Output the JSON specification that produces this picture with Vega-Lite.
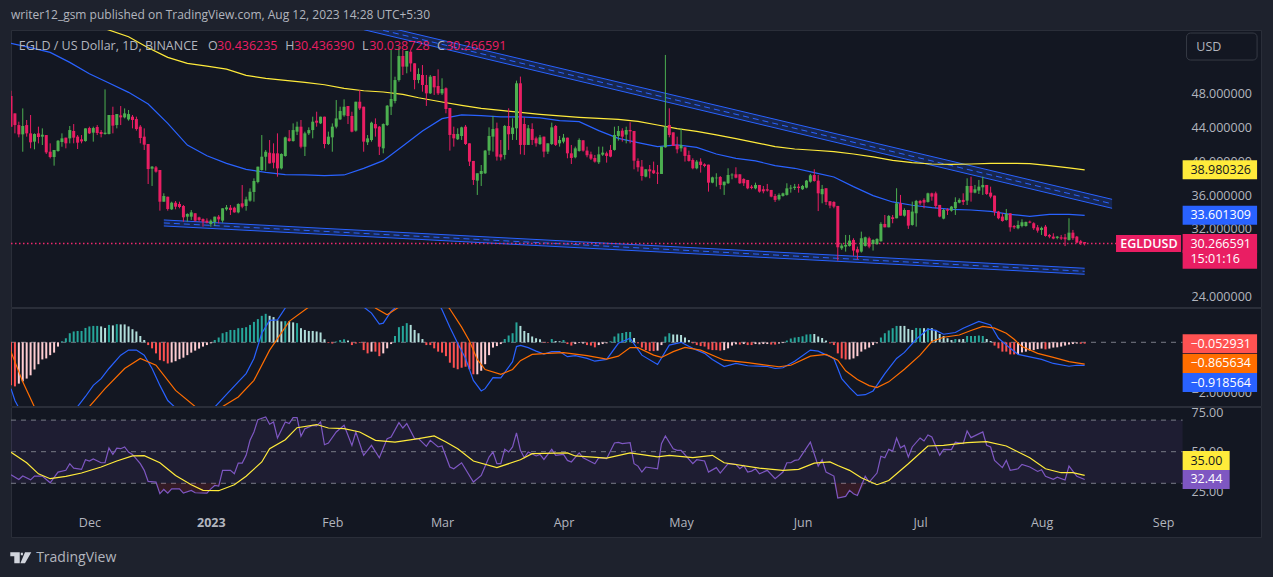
{
"$schema":"https://vega.github.io/schema/vega-lite/v6.json",
"background":"#1e222d",
"padding":{"left":9,"top":8,"right":12,"bottom":12},
"autosize":{"type":"pad"},
"title":{"text":"writer12_gsm published on TradingView.com, Aug 12, 2023 14:28 UTC+5:30","anchor":"start","frame":"group","color":"#b2b5be","fontSize":12,"fontWeight":"normal","font":"Open Sans","offset":8,"dx":0},
"config":{"font":"Open Sans","view":{"fill":"#131722","stroke":"#2a2e39"},"axis":{"labelColor":"#b2b5be","labelFontSize":12.5,"ticks":false,"domain":false,"grid":false,"title":null,"labelFlush":false,"labelOverlap":false,"labelBound":false}},
"spacing":1,
"bounds":"flush",
"datasets":{
"candles":[
{"d":"2022-11-11","o":47.7,"h":48.33,"l":44.08,"c":44.08},{"d":"2022-11-12","o":45.65,"h":45.65,"l":43.29,"c":44.27},{"d":"2022-11-13","o":44.27,"h":44.67,"l":42.82,"c":43.17},{"d":"2022-11-14","o":43.17,"h":46.24,"l":41.12,"c":44.16},{"d":"2022-11-15","o":44.27,"h":44.87,"l":42.9,"c":43.29},
{"d":"2022-11-16","o":43.29,"h":45.46,"l":41.52,"c":42.23},{"d":"2022-11-17","o":42.31,"h":43.29,"l":41.4,"c":43.21},{"d":"2022-11-18","o":43.29,"h":44.08,"l":42.11,"c":42.86},{"d":"2022-11-19","o":42.9,"h":43.88,"l":41.91,"c":43.13},{"d":"2022-11-20","o":43.09,"h":43.09,"l":40.85,"c":41.04},
{"d":"2022-11-21","o":41.12,"h":42.11,"l":40.33,"c":40.49},{"d":"2022-11-22","o":40.49,"h":41.32,"l":39.47,"c":41.32},{"d":"2022-11-23","o":41.2,"h":42.5,"l":41.12,"c":42.42},{"d":"2022-11-24","o":42.27,"h":43.29,"l":41.71,"c":42.7},{"d":"2022-11-25","o":42.78,"h":42.78,"l":41.52,"c":42.11},
{"d":"2022-11-26","o":42.7,"h":44.16,"l":42.11,"c":43.68},{"d":"2022-11-27","o":43.57,"h":44.39,"l":42.11,"c":42.78},{"d":"2022-11-28","o":42.9,"h":43.09,"l":41.44,"c":42.19},{"d":"2022-11-29","o":42.58,"h":43.09,"l":42.11,"c":42.34},{"d":"2022-11-30","o":42.38,"h":43.88,"l":42.31,"c":43.88},
{"d":"2022-12-01","o":43.92,"h":44.08,"l":43.21,"c":43.29},{"d":"2022-12-02","o":43.37,"h":44.08,"l":42.31,"c":43.92},{"d":"2022-12-03","o":44.04,"h":44.27,"l":43.09,"c":43.33},{"d":"2022-12-04","o":43.45,"h":43.68,"l":42.82,"c":43.21},{"d":"2022-12-05","o":43.21,"h":48.49,"l":43.13,"c":43.37},
{"d":"2022-12-06","o":43.21,"h":45.46,"l":43.17,"c":45.46},{"d":"2022-12-07","o":45.46,"h":46.44,"l":43.29,"c":44.2},{"d":"2022-12-08","o":44.27,"h":45.57,"l":43.88,"c":45.57},{"d":"2022-12-09","o":45.42,"h":46.52,"l":44.27,"c":45.18},{"d":"2022-12-10","o":45.18,"h":46.24,"l":45.06,"c":45.65},
{"d":"2022-12-11","o":44.94,"h":46.05,"l":44.79,"c":45.57},{"d":"2022-12-12","o":45.26,"h":45.46,"l":43.88,"c":44.87},{"d":"2022-12-13","o":44.98,"h":45.26,"l":43.61,"c":43.8},{"d":"2022-12-14","o":44.08,"h":44.27,"l":42.11,"c":42.74},{"d":"2022-12-15","o":42.9,"h":43.88,"l":41.32,"c":41.95},
{"d":"2022-12-16","o":42.03,"h":42.03,"l":37.3,"c":39.07},{"d":"2022-12-17","o":39.11,"h":39.43,"l":37.07,"c":39.35},{"d":"2022-12-18","o":39.27,"h":39.43,"l":38.64,"c":38.76},{"d":"2022-12-19","o":38.96,"h":38.96,"l":34.15,"c":35.21},{"d":"2022-12-20","o":35.21,"h":36.2,"l":35.21,"c":35.88},
{"d":"2022-12-21","o":35.8,"h":35.8,"l":34.15,"c":34.35},{"d":"2022-12-22","o":34.31,"h":35.21,"l":34.23,"c":35.09},{"d":"2022-12-23","o":35.09,"h":35.29,"l":34.31,"c":34.62},{"d":"2022-12-24","o":34.94,"h":35.21,"l":34.43,"c":34.58},{"d":"2022-12-25","o":34.7,"h":34.82,"l":32.85,"c":33.36},
{"d":"2022-12-26","o":33.44,"h":33.84,"l":32.85,"c":33.76},{"d":"2022-12-27","o":33.44,"h":34.23,"l":33.05,"c":33.95},{"d":"2022-12-28","o":33.84,"h":33.84,"l":32.85,"c":32.97},{"d":"2022-12-29","o":33.36,"h":33.44,"l":32.85,"c":33.05},{"d":"2022-12-30","o":33.16,"h":33.24,"l":32.26,"c":32.85},
{"d":"2022-12-31","o":32.97,"h":33.24,"l":32.65,"c":32.73},{"d":"2023-01-01","o":32.57,"h":33.12,"l":32.26,"c":32.97},{"d":"2023-01-02","o":32.81,"h":33.44,"l":32.34,"c":33.44},{"d":"2023-01-03","o":33.44,"h":33.64,"l":32.65,"c":33.12},{"d":"2023-01-04","o":32.97,"h":34.43,"l":32.73,"c":34.43},
{"d":"2023-01-05","o":34.31,"h":34.82,"l":34.15,"c":34.54},{"d":"2023-01-06","o":34.5,"h":34.82,"l":33.64,"c":34.23},{"d":"2023-01-07","o":34.5,"h":34.62,"l":33.91,"c":33.95},{"d":"2023-01-08","o":33.95,"h":35.02,"l":33.84,"c":34.94},{"d":"2023-01-09","o":35.02,"h":37.18,"l":34.43,"c":34.62},
{"d":"2023-01-10","o":34.7,"h":35.8,"l":34.15,"c":35.49},{"d":"2023-01-11","o":35.33,"h":36.79,"l":35.21,"c":36.39},{"d":"2023-01-12","o":36.36,"h":37.97,"l":35.21,"c":37.66},{"d":"2023-01-13","o":37.54,"h":39.35,"l":37.38,"c":39.35},{"d":"2023-01-14","o":38.96,"h":43.09,"l":38.88,"c":40.53},
{"d":"2023-01-15","o":40.53,"h":41.32,"l":38.88,"c":41.12},{"d":"2023-01-16","o":41,"h":42.5,"l":39.74,"c":39.74},{"d":"2023-01-17","o":40.93,"h":42.11,"l":39.15,"c":39.82},{"d":"2023-01-18","o":40.93,"h":43.29,"l":38.17,"c":39.15},{"d":"2023-01-19","o":39.15,"h":40.93,"l":39.03,"c":40.85},
{"d":"2023-01-20","o":40.61,"h":42.9,"l":40.53,"c":42.82},{"d":"2023-01-21","o":42.7,"h":43.68,"l":42.31,"c":42.38},{"d":"2023-01-22","o":42.38,"h":44.47,"l":42.31,"c":43.68},{"d":"2023-01-23","o":43.49,"h":44.67,"l":43.09,"c":44.08},{"d":"2023-01-24","o":44.08,"h":44.87,"l":41.52,"c":41.71},
{"d":"2023-01-25","o":41.71,"h":43.49,"l":40.61,"c":43.29},{"d":"2023-01-26","o":43.29,"h":44,"l":43.09,"c":43.68},{"d":"2023-01-27","o":43.68,"h":45.26,"l":42.7,"c":44.67},{"d":"2023-01-28","o":44.79,"h":45.85,"l":44.08,"c":44.55},{"d":"2023-01-29","o":44.47,"h":45.26,"l":44.39,"c":45.26},
{"d":"2023-01-30","o":45.26,"h":45.26,"l":41.52,"c":42.03},{"d":"2023-01-31","o":42.03,"h":43.49,"l":41.91,"c":42.9},{"d":"2023-02-01","o":42.82,"h":44.47,"l":41.12,"c":44.08},{"d":"2023-02-02","o":44.08,"h":47.23,"l":43.88,"c":45.06},{"d":"2023-02-03","o":44.94,"h":46.44,"l":44.87,"c":45.93},
{"d":"2023-02-04","o":45.42,"h":47.31,"l":45.26,"c":46.44},{"d":"2023-02-05","o":46.52,"h":46.52,"l":44.39,"c":45.34},{"d":"2023-02-06","o":45.34,"h":45.85,"l":43.41,"c":43.49},{"d":"2023-02-07","o":43.61,"h":47.03,"l":43.49,"c":47.03},{"d":"2023-02-08","o":47.03,"h":48.41,"l":46.05,"c":46.24},
{"d":"2023-02-09","o":46.44,"h":46.44,"l":41.12,"c":42.31},{"d":"2023-02-10","o":42.23,"h":43.09,"l":41.91,"c":42.7},{"d":"2023-02-11","o":42.5,"h":44.67,"l":42.31,"c":44.55},{"d":"2023-02-12","o":44.39,"h":45.06,"l":42.9,"c":43.88},{"d":"2023-02-13","o":44.08,"h":44.16,"l":40.73,"c":41.71},
{"d":"2023-02-14","o":41.52,"h":44.47,"l":40.93,"c":44.39},{"d":"2023-02-15","o":44.27,"h":46.64,"l":44.16,"c":46.56},{"d":"2023-02-16","o":46.44,"h":53.14,"l":45.46,"c":47.35},{"d":"2023-02-17","o":47.11,"h":49.99,"l":46.84,"c":49.59},{"d":"2023-02-18","o":49.59,"h":53.53,"l":49.4,"c":52.43},
{"d":"2023-02-19","o":52.44,"h":53.15,"l":50.19,"c":51.18},{"d":"2023-02-20","o":51.18,"h":53.03,"l":50.39,"c":53.03},{"d":"2023-02-21","o":52.94,"h":53.14,"l":50.58,"c":51.56},{"d":"2023-02-22","o":51.57,"h":51.57,"l":48.5,"c":49.6},{"d":"2023-02-23","o":49.6,"h":50.98,"l":49.21,"c":50.31},
{"d":"2023-02-24","o":50.19,"h":51.37,"l":48.22,"c":49.01},{"d":"2023-02-25","o":49.01,"h":50.19,"l":46.53,"c":48.02},{"d":"2023-02-26","o":48.02,"h":50.19,"l":47.94,"c":49.99},{"d":"2023-02-27","o":50.07,"h":50.07,"l":47.83,"c":48.73},{"d":"2023-02-28","o":48.89,"h":50.86,"l":47.83,"c":48.02},
{"d":"2023-03-01","o":48.02,"h":49.8,"l":47.83,"c":48.54},{"d":"2023-03-02","o":48.62,"h":48.73,"l":45.66,"c":46.17},{"d":"2023-03-03","o":46.29,"h":46.29,"l":41.25,"c":43.1},{"d":"2023-03-04","o":43.22,"h":44.08,"l":41.72,"c":42.7},{"d":"2023-03-05","o":42.59,"h":43.89,"l":42.51,"c":43.22},
{"d":"2023-03-06","o":42.98,"h":44.08,"l":42.51,"c":44},{"d":"2023-03-07","o":44.08,"h":44.28,"l":41.92,"c":42.03},{"d":"2023-03-08","o":42.11,"h":42.11,"l":39.43,"c":39.95},{"d":"2023-03-09","o":40.03,"h":40.03,"l":37.19,"c":37.78},{"d":"2023-03-10","o":37.7,"h":38.57,"l":36.01,"c":38.57},
{"d":"2023-03-11","o":38.49,"h":39.55,"l":37.07,"c":38.84},{"d":"2023-03-12","o":38.57,"h":41.33,"l":38.49,"c":41.25},{"d":"2023-03-13","o":41.25,"h":44,"l":40.73,"c":42.98},{"d":"2023-03-14","o":42.9,"h":45.35,"l":41.13,"c":43.81},{"d":"2023-03-15","o":43.89,"h":44.56,"l":40.07,"c":40.54},
{"d":"2023-03-16","o":40.81,"h":42.51,"l":40.07,"c":40.46},{"d":"2023-03-17","o":40.74,"h":44.28,"l":40.22,"c":44.16},{"d":"2023-03-18","o":44.16,"h":46.25,"l":41.33,"c":43.18},{"d":"2023-03-19","o":43.22,"h":45.07,"l":42.51,"c":43.97},{"d":"2023-03-20","o":43.89,"h":49.52,"l":42.51,"c":49.21},
{"d":"2023-03-21","o":49.21,"h":50,"l":40.81,"c":41.92},{"d":"2023-03-22","o":44.4,"h":45.19,"l":40.74,"c":41.92},{"d":"2023-03-23","o":41.92,"h":44.28,"l":41.92,"c":43.89},{"d":"2023-03-24","o":43.81,"h":44.48,"l":41.92,"c":42.51},{"d":"2023-03-25","o":42.7,"h":42.9,"l":41.72,"c":42.11},
{"d":"2023-03-26","o":42.03,"h":43.1,"l":41.92,"c":42.82},{"d":"2023-03-27","o":42.9,"h":42.9,"l":40.46,"c":41.13},{"d":"2023-03-28","o":41.13,"h":42.11,"l":40.85,"c":42.11},{"d":"2023-03-29","o":42.03,"h":44.56,"l":41.92,"c":44},{"d":"2023-03-30","o":44.16,"h":44.28,"l":41.8,"c":41.92},
{"d":"2023-03-31","o":42.11,"h":42.98,"l":41.72,"c":42.51},{"d":"2023-04-01","o":42.31,"h":43.22,"l":42.11,"c":42.78},{"d":"2023-04-02","o":42.78,"h":42.78,"l":40.34,"c":40.93},{"d":"2023-04-03","o":40.93,"h":41.92,"l":39.67,"c":40.38},{"d":"2023-04-04","o":40.46,"h":41.72,"l":40.34,"c":41.52},
{"d":"2023-04-05","o":41.21,"h":42.7,"l":41.13,"c":42.51},{"d":"2023-04-06","o":42.47,"h":42.47,"l":41.13,"c":41.25},{"d":"2023-04-07","o":41.25,"h":41.72,"l":40.46,"c":40.7},{"d":"2023-04-08","o":40.81,"h":41.13,"l":40.14,"c":40.3},{"d":"2023-04-09","o":40.38,"h":40.74,"l":39.83,"c":39.95},
{"d":"2023-04-10","o":39.87,"h":41.72,"l":39.67,"c":40.81},{"d":"2023-04-11","o":40.77,"h":41.72,"l":40.62,"c":41.01},{"d":"2023-04-12","o":40.93,"h":41.13,"l":39.83,"c":40.62},{"d":"2023-04-13","o":41.33,"h":41.92,"l":40.46,"c":40.54},{"d":"2023-04-14","o":41.33,"h":44.08,"l":41.25,"c":43.1},
{"d":"2023-04-15","o":42.98,"h":44.16,"l":42.43,"c":43.57},{"d":"2023-04-16","o":43.61,"h":43.89,"l":42.31,"c":42.9},{"d":"2023-04-17","o":43.14,"h":44.08,"l":42.11,"c":43.69},{"d":"2023-04-18","o":43.69,"h":44.6,"l":42.11,"c":43.53},{"d":"2023-04-19","o":43.57,"h":43.57,"l":39.04,"c":40.06},
{"d":"2023-04-20","o":40.03,"h":40.34,"l":38.77,"c":39.28},{"d":"2023-04-21","o":39.36,"h":40.14,"l":37.7,"c":38.25},{"d":"2023-04-22","o":38.17,"h":39.04,"l":38.09,"c":39.04},{"d":"2023-04-23","o":39.04,"h":39.55,"l":37.98,"c":38.8},{"d":"2023-04-24","o":38.92,"h":39.95,"l":38.49,"c":38.57},
{"d":"2023-04-25","o":38.65,"h":39.55,"l":37.3,"c":38.53},{"d":"2023-04-26","o":38.49,"h":41.72,"l":38.49,"c":41.72},{"d":"2023-04-27","o":41.64,"h":52.56,"l":41.6,"c":44.08},{"d":"2023-04-28","o":44.28,"h":46.25,"l":42.82,"c":43.1},{"d":"2023-04-29","o":43.41,"h":43.41,"l":41.8,"c":41.8},
{"d":"2023-04-30","o":41.92,"h":42.9,"l":40.93,"c":41.4},{"d":"2023-05-01","o":41.52,"h":43.89,"l":41.13,"c":41.92},{"d":"2023-05-02","o":41.64,"h":41.64,"l":39.95,"c":40.62},{"d":"2023-05-03","o":40.74,"h":41.25,"l":39.95,"c":40.03},{"d":"2023-05-04","o":40.14,"h":40.34,"l":39.04,"c":39.16},
{"d":"2023-05-05","o":39.16,"h":40.14,"l":39.04,"c":39.95},{"d":"2023-05-06","o":39.95,"h":40.34,"l":38.65,"c":39.55},{"d":"2023-05-07","o":39.63,"h":39.75,"l":39.28,"c":39.43},{"d":"2023-05-08","o":39.59,"h":39.59,"l":36.4,"c":37.46},{"d":"2023-05-09","o":37.46,"h":38.17,"l":37.39,"c":38.09},
{"d":"2023-05-10","o":37.98,"h":38.57,"l":36.99,"c":38.05},{"d":"2023-05-11","o":38.13,"h":38.25,"l":36.68,"c":37.19},{"d":"2023-05-12","o":37.15,"h":37.58,"l":36.01,"c":37.58},{"d":"2023-05-13","o":37.39,"h":39.16,"l":37.31,"c":38.37},{"d":"2023-05-14","o":38.33,"h":38.57,"l":37.86,"c":38.41},
{"d":"2023-05-15","o":38.45,"h":39.28,"l":37.98,"c":38.05},{"d":"2023-05-16","o":38.45,"h":38.45,"l":37.31,"c":37.39},{"d":"2023-05-17","o":37.9,"h":37.98,"l":37.07,"c":37.39},{"d":"2023-05-18","o":37.78,"h":37.78,"l":36.68,"c":36.79},{"d":"2023-05-19","o":36.99,"h":37.19,"l":36.68,"c":36.83},
{"d":"2023-05-20","o":36.79,"h":37.46,"l":36.68,"c":37.19},{"d":"2023-05-21","o":37.19,"h":37.19,"l":36.28,"c":36.4},{"d":"2023-05-22","o":36.68,"h":37.07,"l":36.2,"c":36.44},{"d":"2023-05-23","o":36.68,"h":37.31,"l":36.4,"c":36.52},{"d":"2023-05-24","o":36.6,"h":36.6,"l":35.73,"c":35.81},
{"d":"2023-05-25","o":35.89,"h":36.13,"l":35.18,"c":35.42},{"d":"2023-05-26","o":35.49,"h":36.2,"l":35.34,"c":36.01},{"d":"2023-05-27","o":35.89,"h":36.28,"l":35.81,"c":36.2},{"d":"2023-05-28","o":36.01,"h":37.39,"l":35.93,"c":36.79},{"d":"2023-05-29","o":36.76,"h":37.19,"l":36.28,"c":36.87},
{"d":"2023-05-30","o":36.83,"h":37.31,"l":36.6,"c":36.99},{"d":"2023-05-31","o":36.99,"h":37.31,"l":36.28,"c":36.83},{"d":"2023-06-01","o":36.68,"h":37.19,"l":36.6,"c":37.07},{"d":"2023-06-02","o":36.87,"h":37.78,"l":36.79,"c":37.7},{"d":"2023-06-03","o":37.58,"h":38.49,"l":37.46,"c":38.33},
{"d":"2023-06-04","o":38.37,"h":39.04,"l":37.58,"c":37.66},{"d":"2023-06-05","o":37.7,"h":38.37,"l":34.1,"c":36.2},{"d":"2023-06-06","o":36.09,"h":37.19,"l":35.02,"c":36.72},{"d":"2023-06-07","o":36.8,"h":36.8,"l":34.82,"c":35.18},{"d":"2023-06-08","o":35.26,"h":35.26,"l":34.43,"c":34.75},
{"d":"2023-06-09","o":35.18,"h":35.26,"l":34.43,"c":34.63},{"d":"2023-06-10","o":34.71,"h":34.71,"l":28.24,"c":29.82},{"d":"2023-06-11","o":29.7,"h":30.29,"l":29.51,"c":30.02},{"d":"2023-06-12","o":29.9,"h":31.28,"l":29.31,"c":30.1},{"d":"2023-06-13","o":29.98,"h":31.28,"l":29.9,"c":30.61},
{"d":"2023-06-14","o":30.69,"h":30.89,"l":28.8,"c":29.43},{"d":"2023-06-15","o":29.59,"h":29.9,"l":28.4,"c":29.2},{"d":"2023-06-16","o":29.31,"h":31.67,"l":29.19,"c":30.89},{"d":"2023-06-17","o":29.98,"h":31.08,"l":29.9,"c":31},{"d":"2023-06-18","o":30.89,"h":31.08,"l":29.7,"c":29.9},
{"d":"2023-06-19","o":30.21,"h":30.77,"l":29.43,"c":30.69},{"d":"2023-06-20","o":30.21,"h":30.89,"l":30.1,"c":30.81},{"d":"2023-06-21","o":30.53,"h":32.78,"l":30.49,"c":32.58},{"d":"2023-06-22","o":32.58,"h":33.64,"l":32.18,"c":32.18},{"d":"2023-06-23","o":32.18,"h":33.64,"l":32.18,"c":33.52},
{"d":"2023-06-24","o":33.37,"h":33.64,"l":32.66,"c":33.17},{"d":"2023-06-25","o":33.25,"h":36.8,"l":33.25,"c":35.02},{"d":"2023-06-26","o":35.02,"h":36.01,"l":33.56,"c":33.56},{"d":"2023-06-27","o":33.56,"h":34.43,"l":33.45,"c":34.23},{"d":"2023-06-28","o":34.23,"h":34.23,"l":31.99,"c":32.38},
{"d":"2023-06-29","o":32.46,"h":35.22,"l":32.38,"c":34.04},{"d":"2023-06-30","o":33.84,"h":35.42,"l":32.26,"c":35.3},{"d":"2023-07-01","o":35.3,"h":35.42,"l":34.82,"c":35.02},{"d":"2023-07-02","o":35.42,"h":35.61,"l":34.43,"c":35.1},{"d":"2023-07-03","o":35.18,"h":36.28,"l":35.1,"c":36.2},
{"d":"2023-07-04","o":36.2,"h":36.28,"l":35.33,"c":35.81},{"d":"2023-07-05","o":36.2,"h":36.4,"l":34.43,"c":34.71},{"d":"2023-07-06","o":34.83,"h":34.83,"l":33.37,"c":33.45},{"d":"2023-07-07","o":33.21,"h":34.35,"l":33.13,"c":34.23},{"d":"2023-07-08","o":34.31,"h":34.43,"l":33.64,"c":34.15},
{"d":"2023-07-09","o":34.15,"h":34.71,"l":34.04,"c":34.63},{"d":"2023-07-10","o":34.43,"h":35.73,"l":33.64,"c":35.18},{"d":"2023-07-11","o":35.1,"h":35.61,"l":35.02,"c":35.42},{"d":"2023-07-12","o":35.42,"h":36.2,"l":34.82,"c":35.18},{"d":"2023-07-13","o":35.34,"h":37.98,"l":34.82,"c":37.07},
{"d":"2023-07-14","o":37.07,"h":38.17,"l":35.22,"c":36.28},{"d":"2023-07-15","o":36.28,"h":37.19,"l":36.2,"c":36.68},{"d":"2023-07-16","o":36.52,"h":37.78,"l":36.12,"c":36.99},{"d":"2023-07-17","o":36.91,"h":38.17,"l":36.01,"c":37.19},{"d":"2023-07-18","o":37.19,"h":37.19,"l":36.01,"c":36.12},
{"d":"2023-07-19","o":36.28,"h":36.99,"l":35.61,"c":35.81},{"d":"2023-07-20","o":35.93,"h":35.93,"l":33.56,"c":34.04},{"d":"2023-07-21","o":34.04,"h":34.12,"l":33.13,"c":33.25},{"d":"2023-07-22","o":33.45,"h":33.84,"l":32.85,"c":32.93},{"d":"2023-07-23","o":33.05,"h":34.35,"l":32.97,"c":33.76},
{"d":"2023-07-24","o":33.84,"h":33.84,"l":31.67,"c":32.18},{"d":"2023-07-25","o":32.34,"h":32.46,"l":31.99,"c":32.18},{"d":"2023-07-26","o":32.07,"h":32.97,"l":31.95,"c":32.46},{"d":"2023-07-27","o":32.34,"h":33.13,"l":32.18,"c":32.78},{"d":"2023-07-28","o":32.34,"h":32.85,"l":32.26,"c":32.82},
{"d":"2023-07-29","o":32.85,"h":32.97,"l":32.66,"c":32.74},{"d":"2023-07-30","o":32.66,"h":32.78,"l":31.87,"c":32.07},{"d":"2023-07-31","o":32.18,"h":32.46,"l":31.55,"c":31.79},{"d":"2023-08-01","o":31.87,"h":32.26,"l":31.28,"c":32.11},{"d":"2023-08-02","o":32.26,"h":32.46,"l":31.08,"c":31.16},
{"d":"2023-08-03","o":31.28,"h":31.4,"l":30.89,"c":31.08},{"d":"2023-08-04","o":31.08,"h":31.48,"l":30.77,"c":30.85},{"d":"2023-08-05","o":30.93,"h":31.16,"l":30.77,"c":31.08},{"d":"2023-08-06","o":31,"h":31.28,"l":30.69,"c":30.85},{"d":"2023-08-07","o":31,"h":31.4,"l":29.96,"c":30.77},
{"d":"2023-08-08","o":30.69,"h":33.25,"l":30.61,"c":31.55},{"d":"2023-08-09","o":31.55,"h":31.87,"l":30.69,"c":30.89},{"d":"2023-08-10","o":31.08,"h":31.16,"l":30.29,"c":30.37},{"d":"2023-08-11","o":30.53,"h":30.69,"l":30.1,"c":30.29},{"d":"2023-08-12","o":30.436235,"h":30.43639,"l":30.038728,"c":30.266591}
],
"ma50":[{"d":"2022-11-11","v":53.93},{"d":"2022-11-16","v":53.42},{"d":"2022-11-21","v":52.86},{"d":"2022-11-26","v":51.68},{"d":"2022-12-01","v":50.34},{"d":"2022-12-06","v":49.24},{"d":"2022-12-11","v":48.14},{"d":"2022-12-16","v":46.76},{"d":"2022-12-21","v":44.47},{"d":"2022-12-26","v":41.91},{"d":"2022-12-31","v":40.65},{"d":"2023-01-05","v":39.74},{"d":"2023-01-10","v":39.04},{"d":"2023-01-15","v":38.68},{"d":"2023-01-20","v":38.4},{"d":"2023-01-25","v":38.37},{"d":"2023-01-30","v":38.29},{"d":"2023-02-04","v":38.37},{"d":"2023-02-09","v":39.15},{"d":"2023-02-14","v":40.06},{"d":"2023-02-19","v":41.8},{"d":"2023-02-24","v":43.57},{"d":"2023-03-01","v":45.03},{"d":"2023-03-06","v":45.48},{"d":"2023-03-11","v":45.38},{"d":"2023-03-16","v":45.23},{"d":"2023-03-21","v":45.23},{"d":"2023-03-26","v":45.11},{"d":"2023-03-31","v":44.79},{"d":"2023-04-05","v":44.67},{"d":"2023-04-10","v":43.61},{"d":"2023-04-15","v":42.7},{"d":"2023-04-20","v":42.19},{"d":"2023-04-25","v":41.72},{"d":"2023-04-30","v":41.92},{"d":"2023-05-05","v":41.64},{"d":"2023-05-10","v":40.85},{"d":"2023-05-15","v":40.34},{"d":"2023-05-20","v":40.03},{"d":"2023-05-25","v":39.47},{"d":"2023-05-30","v":39.16},{"d":"2023-06-04","v":38.65},{"d":"2023-06-09","v":38.13},{"d":"2023-06-14","v":36.99},{"d":"2023-06-19","v":35.93},{"d":"2023-06-24","v":35.18},{"d":"2023-06-29","v":34.79},{"d":"2023-07-04","v":34.51},{"d":"2023-07-09","v":34.31},{"d":"2023-07-14","v":34.23},{"d":"2023-07-19","v":34.07},{"d":"2023-07-24","v":33.72},{"d":"2023-07-29","v":33.48},{"d":"2023-08-03","v":33.72},{"d":"2023-08-08","v":33.72},{"d":"2023-08-12","v":33.601309}],
"ma200":[{"d":"2022-12-04","v":55.82},{"d":"2022-12-11","v":54.72},{"d":"2022-12-16","v":53.42},{"d":"2022-12-21","v":52.27},{"d":"2022-12-26","v":51.56},{"d":"2022-12-31","v":51.25},{"d":"2023-01-05","v":50.89},{"d":"2023-01-10","v":50.15},{"d":"2023-01-15","v":49.79},{"d":"2023-01-20","v":49.55},{"d":"2023-01-25","v":49.32},{"d":"2023-01-30","v":49.04},{"d":"2023-02-04","v":48.61},{"d":"2023-02-09","v":48.33},{"d":"2023-02-14","v":48.18},{"d":"2023-02-19","v":47.9},{"d":"2023-02-23","v":47.5},{"d":"2023-03-01","v":47},{"d":"2023-03-06","v":46.6},{"d":"2023-03-11","v":46.25},{"d":"2023-03-16","v":46},{"d":"2023-03-21","v":45.78},{"d":"2023-03-26","v":45.54},{"d":"2023-03-31","v":45.35},{"d":"2023-04-05","v":45.19},{"d":"2023-04-10","v":45.07},{"d":"2023-04-15","v":44.95},{"d":"2023-04-20","v":44.71},{"d":"2023-04-25","v":44.28},{"d":"2023-04-30","v":43.85},{"d":"2023-05-05","v":43.53},{"d":"2023-05-10","v":43.1},{"d":"2023-05-15","v":42.67},{"d":"2023-05-20","v":42.19},{"d":"2023-05-25","v":41.72},{"d":"2023-05-30","v":41.44},{"d":"2023-06-04","v":41.29},{"d":"2023-06-09","v":41.13},{"d":"2023-06-14","v":40.85},{"d":"2023-06-19","v":40.5},{"d":"2023-06-24","v":40.1},{"d":"2023-06-29","v":39.83},{"d":"2023-07-04","v":39.67},{"d":"2023-07-09","v":39.63},{"d":"2023-07-14","v":39.67},{"d":"2023-07-19","v":39.75},{"d":"2023-07-24","v":39.75},{"d":"2023-07-29","v":39.71},{"d":"2023-08-03","v":39.47},{"d":"2023-08-08","v":39.2},{"d":"2023-08-12","v":38.980326}],
"channelUpper":[{"d":"2023-02-09","upper":56.5,"mid":56.02,"lower":55.55},{"d":"2023-08-19","upper":35.49,"mid":34.96,"lower":34.43}],
"channelLower":[{"d":"2022-12-20","upper":33.05,"mid":32.7,"lower":32.34},{"d":"2023-08-12","upper":27.34,"mid":26.98,"lower":26.63}],
"headerText":[{"d":"2022-11-13","text":"EGLD / US Dollar, 1D, BINANCE","kind":"name"},{"d":"2022-12-31T07:00:00Z","text":"O","kind":"name"},{"d":"2023-01-02T14:00:00Z","text":"30.436235","kind":"value"},{"d":"2023-01-20","text":"H","kind":"name"},{"d":"2023-01-22T05:00:00Z","text":"30.436390","kind":"value"},{"d":"2023-02-08T14:00:00Z","text":"L","kind":"name"},{"d":"2023-02-10T10:00:00Z","text":"30.038728","kind":"value"},{"d":"2023-02-27T17:00:00Z","text":"C","kind":"name"},{"d":"2023-03-02","text":"30.266591","kind":"value"}],
"priceTags":[{"label":"38.980326","series":"ma200","at":38.980326},{"label":"33.601309","series":"ma50","at":33.601309},{"label":"30.266591","series":"price","at":30.266591},{"label":"15:01:16","series":"price","at":28.4}],
"macdTags":[{"label":"−0.052931","series":"hist","at":-0.052931},{"label":"−0.865634","series":"signal","at":-0.84},{"label":"−0.918564","series":"macd","at":-1.6}],
"rsiTags":[{"label":"35.00","series":"rsiMa","at":44.4},{"label":"32.44","series":"rsi","at":32.44}],
"macdHist":[
{"d":"2022-11-11","v":-1.7,"tone":"neg"},{"d":"2022-11-12","v":-1.75,"tone":"neg"},{"d":"2022-11-13","v":-1.64,"tone":"negFade"},{"d":"2022-11-14","v":-1.55,"tone":"negFade"},{"d":"2022-11-15","v":-1.44,"tone":"negFade"},{"d":"2022-11-16","v":-1.31,"tone":"negFade"},{"d":"2022-11-17","v":-1.08,"tone":"negFade"},{"d":"2022-11-18","v":-0.87,"tone":"negFade"},{"d":"2022-11-19","v":-0.68,"tone":"negFade"},{"d":"2022-11-20","v":-0.64,"tone":"negFade"},{"d":"2022-11-21","v":-0.51,"tone":"negFade"},{"d":"2022-11-22","v":-0.41,"tone":"negFade"},{"d":"2022-11-23","v":-0.17,"tone":"negFade"},{"d":"2022-11-24","v":0.04,"tone":"pos"},{"d":"2022-11-25","v":0.16,"tone":"pos"},{"d":"2022-11-26","v":0.36,"tone":"pos"},{"d":"2022-11-27","v":0.43,"tone":"pos"},{"d":"2022-11-28","v":0.45,"tone":"pos"},{"d":"2022-11-29","v":0.45,"tone":"pos"},{"d":"2022-11-30","v":0.57,"tone":"pos"},
{"d":"2022-12-01","v":0.63,"tone":"pos"},{"d":"2022-12-02","v":0.65,"tone":"pos"},{"d":"2022-12-03","v":0.65,"tone":"pos"},{"d":"2022-12-04","v":0.63,"tone":"posFade"},{"d":"2022-12-05","v":0.57,"tone":"posFade"},{"d":"2022-12-06","v":0.69,"tone":"pos"},{"d":"2022-12-07","v":0.67,"tone":"posFade"},{"d":"2022-12-08","v":0.72,"tone":"pos"},{"d":"2022-12-09","v":0.71,"tone":"posFade"},{"d":"2022-12-10","v":0.71,"tone":"posFade"},{"d":"2022-12-11","v":0.63,"tone":"posFade"},{"d":"2022-12-12","v":0.52,"tone":"posFade"},{"d":"2022-12-13","v":0.43,"tone":"posFade"},{"d":"2022-12-14","v":0.25,"tone":"posFade"},{"d":"2022-12-15","v":0.09,"tone":"posFade"},{"d":"2022-12-16","v":-0.11,"tone":"neg"},{"d":"2022-12-17","v":-0.24,"tone":"neg"},{"d":"2022-12-18","v":-0.44,"tone":"neg"},{"d":"2022-12-19","v":-0.71,"tone":"neg"},{"d":"2022-12-20","v":-0.75,"tone":"neg"},{"d":"2022-12-21","v":-0.84,"tone":"neg"},{"d":"2022-12-22","v":-0.8,"tone":"negFade"},{"d":"2022-12-23","v":-0.75,"tone":"negFade"},{"d":"2022-12-24","v":-0.67,"tone":"negFade"},{"d":"2022-12-25","v":-0.61,"tone":"negFade"},{"d":"2022-12-26","v":-0.51,"tone":"negFade"},{"d":"2022-12-27","v":-0.41,"tone":"negFade"},{"d":"2022-12-28","v":-0.33,"tone":"negFade"},{"d":"2022-12-29","v":-0.25,"tone":"negFade"},{"d":"2022-12-30","v":-0.17,"tone":"negFade"},{"d":"2022-12-31","v":-0.11,"tone":"negFade"},
{"d":"2023-01-01","v":-0.04,"tone":"negFade"},{"d":"2023-01-02","v":0.09,"tone":"pos"},{"d":"2023-01-03","v":0.19,"tone":"pos"},{"d":"2023-01-04","v":0.36,"tone":"pos"},{"d":"2023-01-05","v":0.41,"tone":"pos"},{"d":"2023-01-06","v":0.49,"tone":"pos"},{"d":"2023-01-07","v":0.49,"tone":"pos"},{"d":"2023-01-08","v":0.56,"tone":"pos"},{"d":"2023-01-09","v":0.57,"tone":"pos"},{"d":"2023-01-10","v":0.6,"tone":"pos"},{"d":"2023-01-11","v":0.69,"tone":"pos"},{"d":"2023-01-12","v":0.81,"tone":"pos"},{"d":"2023-01-13","v":0.92,"tone":"pos"},{"d":"2023-01-14","v":1.05,"tone":"pos"},{"d":"2023-01-15","v":1.13,"tone":"pos"},{"d":"2023-01-16","v":1.05,"tone":"posFade"},{"d":"2023-01-17","v":1,"tone":"posFade"},{"d":"2023-01-18","v":0.87,"tone":"posFade"},{"d":"2023-01-19","v":0.83,"tone":"posFade"},{"d":"2023-01-20","v":0.84,"tone":"pos"},{"d":"2023-01-21","v":0.83,"tone":"posFade"},{"d":"2023-01-22","v":0.79,"tone":"posFade"},{"d":"2023-01-23","v":0.76,"tone":"pos"},{"d":"2023-01-24","v":0.56,"tone":"posFade"},{"d":"2023-01-25","v":0.49,"tone":"posFade"},{"d":"2023-01-26","v":0.45,"tone":"posFade"},{"d":"2023-01-27","v":0.45,"tone":"posFade"},{"d":"2023-01-28","v":0.43,"tone":"posFade"},{"d":"2023-01-29","v":0.39,"tone":"posFade"},{"d":"2023-01-30","v":0.12,"tone":"posFade"},{"d":"2023-01-31","v":-0.03,"tone":"neg"},
{"d":"2023-02-01","v":-0.05,"tone":"neg"},{"d":"2023-02-02","v":0.03,"tone":"pos"},{"d":"2023-02-03","v":0.09,"tone":"pos"},{"d":"2023-02-04","v":0.12,"tone":"pos"},{"d":"2023-02-05","v":0.07,"tone":"posFade"},{"d":"2023-02-06","v":-0.11,"tone":"neg"},{"d":"2023-02-07","v":-0.05,"tone":"neg"},{"d":"2023-02-08","v":-0.03,"tone":"neg"},{"d":"2023-02-09","v":-0.31,"tone":"neg"},{"d":"2023-02-10","v":-0.44,"tone":"neg"},{"d":"2023-02-11","v":-0.37,"tone":"negFade"},{"d":"2023-02-12","v":-0.37,"tone":"neg"},{"d":"2023-02-13","v":-0.55,"tone":"neg"},{"d":"2023-02-14","v":-0.44,"tone":"negFade"},{"d":"2023-02-15","v":-0.24,"tone":"negFade"},{"d":"2023-02-16","v":-0.07,"tone":"negFade"},{"d":"2023-02-17","v":0.25,"tone":"pos"},{"d":"2023-02-18","v":0.6,"tone":"pos"},{"d":"2023-02-19","v":0.65,"tone":"pos"},{"d":"2023-02-20","v":0.76,"tone":"pos"},{"d":"2023-02-21","v":0.69,"tone":"posFade"},{"d":"2023-02-22","v":0.49,"tone":"posFade"},{"d":"2023-02-23","v":0.36,"tone":"posFade"},{"d":"2023-02-24","v":0.13,"tone":"posFade"},{"d":"2023-02-25","v":-0.11,"tone":"neg"},{"d":"2023-02-26","v":-0.11,"tone":"neg"},{"d":"2023-02-27","v":-0.24,"tone":"neg"},{"d":"2023-02-28","v":-0.37,"tone":"neg"},
{"d":"2023-03-01","v":-0.41,"tone":"neg"},{"d":"2023-03-02","v":-0.55,"tone":"neg"},{"d":"2023-03-03","v":-0.81,"tone":"neg"},{"d":"2023-03-04","v":-1.01,"tone":"neg"},{"d":"2023-03-05","v":-1.07,"tone":"neg"},{"d":"2023-03-06","v":-1.01,"tone":"neg"},{"d":"2023-03-07","v":-0.97,"tone":"neg"},{"d":"2023-03-08","v":-1.07,"tone":"neg"},{"d":"2023-03-09","v":-1.27,"tone":"neg"},{"d":"2023-03-10","v":-1.27,"tone":"negFade"},{"d":"2023-03-11","v":-1.13,"tone":"negFade"},{"d":"2023-03-12","v":-0.87,"tone":"negFade"},{"d":"2023-03-13","v":-0.51,"tone":"negFade"},{"d":"2023-03-14","v":-0.21,"tone":"negFade"},{"d":"2023-03-15","v":-0.15,"tone":"negFade"},{"d":"2023-03-16","v":-0.07,"tone":"negFade"},{"d":"2023-03-17","v":0.13,"tone":"pos"},{"d":"2023-03-18","v":0.27,"tone":"pos"},{"d":"2023-03-19","v":0.36,"tone":"pos"},{"d":"2023-03-20","v":0.79,"tone":"pos"},{"d":"2023-03-21","v":0.65,"tone":"posFade"},{"d":"2023-03-22","v":0.45,"tone":"posFade"},{"d":"2023-03-23","v":0.37,"tone":"posFade"},{"d":"2023-03-24","v":0.23,"tone":"posFade"},{"d":"2023-03-25","v":0.16,"tone":"posFade"},{"d":"2023-03-26","v":0.12,"tone":"posFade"},{"d":"2023-03-27","v":-0.02,"tone":"neg"},{"d":"2023-03-28","v":-0.02,"tone":"neg"},{"d":"2023-03-29","v":0.13,"tone":"pos"},{"d":"2023-03-30","v":0.05,"tone":"posFade"},{"d":"2023-03-31","v":0.04,"tone":"posFade"},
{"d":"2023-04-01","v":0.09,"tone":"pos"},{"d":"2023-04-02","v":-0.07,"tone":"neg"},{"d":"2023-04-03","v":-0.13,"tone":"neg"},{"d":"2023-04-04","v":-0.07,"tone":"negFade"},{"d":"2023-04-05","v":-0.03,"tone":"negFade"},{"d":"2023-04-06","v":-0.05,"tone":"negFade"},{"d":"2023-04-07","v":-0.11,"tone":"neg"},{"d":"2023-04-08","v":-0.13,"tone":"neg"},{"d":"2023-04-09","v":-0.2,"tone":"neg"},{"d":"2023-04-10","v":-0.11,"tone":"negFade"},{"d":"2023-04-11","v":-0.07,"tone":"negFade"},{"d":"2023-04-12","v":-0.04,"tone":"negFade"},{"d":"2023-04-13","v":0.04,"tone":"pos"},{"d":"2023-04-14","v":0.23,"tone":"pos"},{"d":"2023-04-15","v":0.35,"tone":"pos"},{"d":"2023-04-16","v":0.37,"tone":"pos"},{"d":"2023-04-17","v":0.41,"tone":"pos"},{"d":"2023-04-18","v":0.41,"tone":"pos"},{"d":"2023-04-19","v":0.17,"tone":"posFade"},{"d":"2023-04-20","v":-0.04,"tone":"neg"},{"d":"2023-04-21","v":-0.21,"tone":"neg"},{"d":"2023-04-22","v":-0.31,"tone":"neg"},{"d":"2023-04-23","v":-0.35,"tone":"neg"},{"d":"2023-04-24","v":-0.35,"tone":"neg"},{"d":"2023-04-25","v":-0.33,"tone":"negFade"},{"d":"2023-04-26","v":-0.11,"tone":"negFade"},{"d":"2023-04-27","v":0.23,"tone":"pos"},{"d":"2023-04-28","v":0.36,"tone":"pos"},{"d":"2023-04-29","v":0.31,"tone":"posFade"},{"d":"2023-04-30","v":0.31,"tone":"posFade"},
{"d":"2023-05-01","v":0.29,"tone":"posFade"},{"d":"2023-05-02","v":0.19,"tone":"posFade"},{"d":"2023-05-03","v":0.09,"tone":"posFade"},{"d":"2023-05-04","v":-0.04,"tone":"neg"},{"d":"2023-05-05","v":-0.11,"tone":"neg"},{"d":"2023-05-06","v":-0.15,"tone":"neg"},{"d":"2023-05-07","v":-0.17,"tone":"neg"},{"d":"2023-05-08","v":-0.28,"tone":"neg"},{"d":"2023-05-09","v":-0.31,"tone":"neg"},{"d":"2023-05-10","v":-0.31,"tone":"neg"},{"d":"2023-05-11","v":-0.33,"tone":"neg"},{"d":"2023-05-12","v":-0.31,"tone":"negFade"},{"d":"2023-05-13","v":-0.24,"tone":"negFade"},{"d":"2023-05-14","v":-0.13,"tone":"negFade"},{"d":"2023-05-15","v":-0.08,"tone":"negFade"},{"d":"2023-05-16","v":-0.09,"tone":"neg"},{"d":"2023-05-17","v":-0.07,"tone":"negFade"},{"d":"2023-05-18","v":-0.11,"tone":"neg"},{"d":"2023-05-19","v":-0.11,"tone":"neg"},{"d":"2023-05-20","v":-0.07,"tone":"negFade"},{"d":"2023-05-21","v":-0.08,"tone":"negFade"},{"d":"2023-05-22","v":-0.07,"tone":"negFade"},{"d":"2023-05-23","v":-0.07,"tone":"negFade"},{"d":"2023-05-24","v":-0.09,"tone":"neg"},{"d":"2023-05-25","v":-0.09,"tone":"neg"},{"d":"2023-05-26","v":-0.05,"tone":"negFade"},{"d":"2023-05-27","v":-0.03,"tone":"negFade"},{"d":"2023-05-28","v":0.07,"tone":"pos"},{"d":"2023-05-29","v":0.15,"tone":"pos"},{"d":"2023-05-30","v":0.19,"tone":"pos"},{"d":"2023-05-31","v":0.21,"tone":"pos"},
{"d":"2023-06-01","v":0.24,"tone":"pos"},{"d":"2023-06-02","v":0.31,"tone":"pos"},{"d":"2023-06-03","v":0.32,"tone":"pos"},{"d":"2023-06-04","v":0.33,"tone":"posFade"},{"d":"2023-06-05","v":0.23,"tone":"posFade"},{"d":"2023-06-06","v":0.17,"tone":"posFade"},{"d":"2023-06-07","v":0.07,"tone":"posFade"},{"d":"2023-06-08","v":-0.04,"tone":"neg"},{"d":"2023-06-09","v":-0.11,"tone":"neg"},{"d":"2023-06-10","v":-0.44,"tone":"neg"},{"d":"2023-06-11","v":-0.64,"tone":"neg"},{"d":"2023-06-12","v":-0.68,"tone":"neg"},{"d":"2023-06-13","v":-0.68,"tone":"negFade"},{"d":"2023-06-14","v":-0.64,"tone":"negFade"},{"d":"2023-06-15","v":-0.55,"tone":"negFade"},{"d":"2023-06-16","v":-0.37,"tone":"negFade"},{"d":"2023-06-17","v":-0.28,"tone":"negFade"},{"d":"2023-06-18","v":-0.21,"tone":"negFade"},{"d":"2023-06-19","v":-0.11,"tone":"negFade"},{"d":"2023-06-20","v":-0.04,"tone":"negFade"},{"d":"2023-06-21","v":0.19,"tone":"pos"},{"d":"2023-06-22","v":0.36,"tone":"pos"},{"d":"2023-06-23","v":0.47,"tone":"pos"},{"d":"2023-06-24","v":0.56,"tone":"pos"},{"d":"2023-06-25","v":0.65,"tone":"pos"},{"d":"2023-06-26","v":0.65,"tone":"posFade"},{"d":"2023-06-27","v":0.65,"tone":"posFade"},{"d":"2023-06-28","v":0.53,"tone":"posFade"},{"d":"2023-06-29","v":0.49,"tone":"posFade"},{"d":"2023-06-30","v":0.57,"tone":"pos"},
{"d":"2023-07-01","v":0.56,"tone":"pos"},{"d":"2023-07-02","v":0.56,"tone":"posFade"},{"d":"2023-07-03","v":0.56,"tone":"pos"},{"d":"2023-07-04","v":0.56,"tone":"posFade"},{"d":"2023-07-05","v":0.49,"tone":"posFade"},{"d":"2023-07-06","v":0.33,"tone":"posFade"},{"d":"2023-07-07","v":0.25,"tone":"posFade"},{"d":"2023-07-08","v":0.16,"tone":"posFade"},{"d":"2023-07-09","v":0.09,"tone":"posFade"},{"d":"2023-07-10","v":0.13,"tone":"pos"},{"d":"2023-07-11","v":0.12,"tone":"posFade"},{"d":"2023-07-12","v":0.13,"tone":"posFade"},{"d":"2023-07-13","v":0.25,"tone":"pos"},{"d":"2023-07-14","v":0.25,"tone":"pos"},{"d":"2023-07-15","v":0.25,"tone":"pos"},{"d":"2023-07-16","v":0.27,"tone":"pos"},{"d":"2023-07-17","v":0.25,"tone":"pos"},{"d":"2023-07-18","v":0.13,"tone":"posFade"},{"d":"2023-07-19","v":0.05,"tone":"posFade"},{"d":"2023-07-20","v":-0.13,"tone":"neg"},{"d":"2023-07-21","v":-0.24,"tone":"neg"},{"d":"2023-07-22","v":-0.37,"tone":"neg"},{"d":"2023-07-23","v":-0.37,"tone":"neg"},{"d":"2023-07-24","v":-0.48,"tone":"neg"},{"d":"2023-07-25","v":-0.48,"tone":"neg"},{"d":"2023-07-26","v":-0.47,"tone":"negFade"},{"d":"2023-07-27","v":-0.4,"tone":"negFade"},{"d":"2023-07-28","v":-0.37,"tone":"negFade"},{"d":"2023-07-29","v":-0.33,"tone":"negFade"},{"d":"2023-07-30","v":-0.31,"tone":"negFade"},{"d":"2023-07-31","v":-0.27,"tone":"negFade"},
{"d":"2023-08-01","v":-0.25,"tone":"negFade"},{"d":"2023-08-02","v":-0.28,"tone":"neg"},{"d":"2023-08-03","v":-0.25,"tone":"negFade"},{"d":"2023-08-04","v":-0.21,"tone":"negFade"},{"d":"2023-08-05","v":-0.2,"tone":"negFade"},{"d":"2023-08-06","v":-0.17,"tone":"negFade"},{"d":"2023-08-07","v":-0.13,"tone":"negFade"},{"d":"2023-08-08","v":-0.09,"tone":"negFade"},{"d":"2023-08-09","v":-0.07,"tone":"negFade"},{"d":"2023-08-10","v":-0.05,"tone":"negFade"},{"d":"2023-08-11","v":-0.06,"tone":"neg"},{"d":"2023-08-12","v":-0.052931,"tone":"neg"}
],
"macdLine":[{"d":"2022-11-11","v":-1.84},{"d":"2022-11-12","v":-2.31},{"d":"2022-11-14","v":-2.9},{"d":"2022-11-19","v":-3.37},{"d":"2022-11-25","v":-3.1},{"d":"2022-11-28","v":-2.55},{"d":"2022-11-30","v":-2.15},{"d":"2022-12-02","v":-1.71},{"d":"2022-12-04","v":-1.44},{"d":"2022-12-06","v":-1.04},{"d":"2022-12-09","v":-0.51},{"d":"2022-12-11","v":-0.31},{"d":"2022-12-13","v":-0.31},{"d":"2022-12-15","v":-0.51},{"d":"2022-12-17","v":-1.04},{"d":"2022-12-19","v":-1.71},{"d":"2022-12-21","v":-2.31},{"d":"2022-12-23","v":-2.6},{"d":"2022-12-29","v":-3.37},{"d":"2023-01-02","v":-2.57},{"d":"2023-01-05","v":-2.07},{"d":"2023-01-08","v":-1.57},{"d":"2023-01-10","v":-1.24},{"d":"2023-01-12","v":-0.64},{"d":"2023-01-14","v":0.36},{"d":"2023-01-16","v":0.87},{"d":"2023-01-18","v":0.89},{"d":"2023-01-20","v":1.36},{"d":"2023-01-22","v":1.96},{"d":"2023-01-25","v":2.63},{"d":"2023-01-30","v":2.89},{"d":"2023-02-04","v":2.17},{"d":"2023-02-07","v":1.76},{"d":"2023-02-09","v":1.4},{"d":"2023-02-11","v":1.16},{"d":"2023-02-13","v":0.72},{"d":"2023-02-14","v":0.76},{"d":"2023-02-16","v":1.23},{"d":"2023-02-17","v":1.36},{"d":"2023-02-19","v":1.83},{"d":"2023-02-21","v":2.23},{"d":"2023-02-23","v":2.49},{"d":"2023-02-27","v":1.89},{"d":"2023-03-01","v":1.29},{"d":"2023-03-03","v":0.6},{"d":"2023-03-05","v":-0.04},{"d":"2023-03-07","v":-0.64},{"d":"2023-03-09","v":-1.51},{"d":"2023-03-11","v":-1.93},{"d":"2023-03-12","v":-1.84},{"d":"2023-03-14","v":-1.4},{"d":"2023-03-16","v":-1.41},{"d":"2023-03-19","v":-0.77},{"d":"2023-03-20","v":-0.17},{"d":"2023-03-21","v":-0.12},{"d":"2023-03-23","v":-0.21},{"d":"2023-03-25","v":-0.35},{"d":"2023-03-27","v":-0.47},{"d":"2023-03-29","v":-0.37},{"d":"2023-03-31","v":-0.37},{"d":"2023-04-02","v":-0.57},{"d":"2023-04-04","v":-0.53},{"d":"2023-04-07","v":-0.64},{"d":"2023-04-09","v":-0.75},{"d":"2023-04-12","v":-0.68},{"d":"2023-04-15","v":-0.04},{"d":"2023-04-18","v":0.16},{"d":"2023-04-21","v":-0.51},{"d":"2023-04-25","v":-0.88},{"d":"2023-04-28","v":-0.11},{"d":"2023-05-01","v":0},{"d":"2023-05-04","v":-0.24},{"d":"2023-05-07","v":-0.44},{"d":"2023-05-09","v":-0.68},{"d":"2023-05-12","v":-0.96},{"d":"2023-05-15","v":-0.84},{"d":"2023-05-18","v":-0.93},{"d":"2023-05-23","v":-0.96},{"d":"2023-05-25","v":-1.04},{"d":"2023-05-27","v":-1.01},{"d":"2023-05-30","v":-0.75},{"d":"2023-06-03","v":-0.31},{"d":"2023-06-05","v":-0.35},{"d":"2023-06-07","v":-0.5},{"d":"2023-06-08","v":-0.56},{"d":"2023-06-09","v":-0.65},{"d":"2023-06-10","v":-1.04},{"d":"2023-06-11","v":-1.44},{"d":"2023-06-13","v":-1.8},{"d":"2023-06-15","v":-2.11},{"d":"2023-06-17","v":-2.08},{"d":"2023-06-19","v":-1.93},{"d":"2023-06-22","v":-1.24},{"d":"2023-06-25","v":-0.64},{"d":"2023-06-27","v":-0.4},{"d":"2023-06-30","v":0.12},{"d":"2023-07-03","v":0.52},{"d":"2023-07-05","v":0.47},{"d":"2023-07-07","v":0.32},{"d":"2023-07-10","v":0.39},{"d":"2023-07-12","v":0.56},{"d":"2023-07-16","v":0.83},{"d":"2023-07-19","v":0.69},{"d":"2023-07-21","v":0.16},{"d":"2023-07-24","v":-0.24},{"d":"2023-07-26","v":-0.48},{"d":"2023-08-01","v":-0.68},{"d":"2023-08-04","v":-0.84},{"d":"2023-08-08","v":-0.95},{"d":"2023-08-10","v":-0.91},{"d":"2023-08-12","v":-0.918564}],
"signalLine":[{"d":"2022-11-11","v":-0.37},{"d":"2022-11-14","v":-1.57},{"d":"2022-11-17","v":-2.57},{"d":"2022-11-21","v":-3.5},{"d":"2022-11-26","v":-3.5},{"d":"2022-12-01","v":-2.55},{"d":"2022-12-05","v":-1.84},{"d":"2022-12-10","v":-1.04},{"d":"2022-12-14","v":-0.64},{"d":"2022-12-18","v":-0.91},{"d":"2022-12-23","v":-1.91},{"d":"2022-12-28","v":-2.55},{"d":"2022-12-31","v":-2.8},{"d":"2023-01-04","v":-2.55},{"d":"2023-01-08","v":-2.17},{"d":"2023-01-12","v":-1.51},{"d":"2023-01-16","v":-0.31},{"d":"2023-01-21","v":0.83},{"d":"2023-01-26","v":1.4},{"d":"2023-02-01","v":2.29},{"d":"2023-02-09","v":2.09},{"d":"2023-02-12","v":1.36},{"d":"2023-02-15","v":1.09},{"d":"2023-02-18","v":1.4},{"d":"2023-02-22","v":1.96},{"d":"2023-02-27","v":2.09},{"d":"2023-03-03","v":1.32},{"d":"2023-03-06","v":0.6},{"d":"2023-03-08","v":0.05},{"d":"2023-03-10","v":-0.68},{"d":"2023-03-12","v":-1.08},{"d":"2023-03-16","v":-1.27},{"d":"2023-03-19","v":-1.08},{"d":"2023-03-21","v":-0.73},{"d":"2023-03-24","v":-0.48},{"d":"2023-03-28","v":-0.44},{"d":"2023-04-01","v":-0.41},{"d":"2023-04-07","v":-0.53},{"d":"2023-04-12","v":-0.67},{"d":"2023-04-15","v":-0.55},{"d":"2023-04-18","v":-0.21},{"d":"2023-04-20","v":-0.21},{"d":"2023-04-24","v":-0.51},{"d":"2023-04-26","v":-0.6},{"d":"2023-04-29","v":-0.37},{"d":"2023-05-02","v":-0.2},{"d":"2023-05-06","v":-0.31},{"d":"2023-05-12","v":-0.71},{"d":"2023-05-18","v":-0.81},{"d":"2023-05-26","v":-0.97},{"d":"2023-05-29","v":-0.91},{"d":"2023-06-03","v":-0.55},{"d":"2023-06-07","v":-0.48},{"d":"2023-06-10","v":-0.71},{"d":"2023-06-12","v":-1.13},{"d":"2023-06-15","v":-1.48},{"d":"2023-06-18","v":-1.72},{"d":"2023-06-20","v":-1.8},{"d":"2023-06-23","v":-1.57},{"d":"2023-06-27","v":-1.07},{"d":"2023-07-01","v":-0.51},{"d":"2023-07-04","v":0.03},{"d":"2023-07-07","v":0.2},{"d":"2023-07-11","v":0.29},{"d":"2023-07-14","v":0.47},{"d":"2023-07-17","v":0.63},{"d":"2023-07-20","v":0.56},{"d":"2023-07-23","v":0.36},{"d":"2023-07-25","v":0.12},{"d":"2023-07-27","v":-0.17},{"d":"2023-07-31","v":-0.44},{"d":"2023-08-04","v":-0.6},{"d":"2023-08-08","v":-0.77},{"d":"2023-08-12","v":-0.865634}],
"rsi":[{"d":"2022-11-11","v":35.4},{"d":"2022-11-13","v":32.4},{"d":"2022-11-14","v":34.6},{"d":"2022-11-16","v":32.2},{"d":"2022-11-17","v":34.6},{"d":"2022-11-19","v":34.6},{"d":"2022-11-21","v":30.3},{"d":"2022-11-23","v":37.1},{"d":"2022-11-25","v":38.2},{"d":"2022-11-26","v":42.4},{"d":"2022-11-27","v":39.6},{"d":"2022-11-29","v":38.8},{"d":"2022-11-30","v":44.9},{"d":"2022-12-01","v":44.1},{"d":"2022-12-02","v":45.4},{"d":"2022-12-04","v":43},{"d":"2022-12-05","v":43},{"d":"2022-12-06","v":52.3},{"d":"2022-12-07","v":48.3},{"d":"2022-12-08","v":52.3},{"d":"2022-12-09","v":51.9},{"d":"2022-12-10","v":53},{"d":"2022-12-11","v":49.8},{"d":"2022-12-12","v":48.3},{"d":"2022-12-14","v":42.4},{"d":"2022-12-15","v":38.2},{"d":"2022-12-16","v":31.2},{"d":"2022-12-18","v":30.8},{"d":"2022-12-19","v":23.4},{"d":"2022-12-20","v":26.1},{"d":"2022-12-21","v":23.8},{"d":"2022-12-22","v":26.5},{"d":"2022-12-24","v":26.5},{"d":"2022-12-25","v":23.8},{"d":"2022-12-27","v":25.5},{"d":"2022-12-28","v":24},{"d":"2022-12-31","v":23.8},{"d":"2023-01-01","v":26.5},{"d":"2023-01-02","v":28.6},{"d":"2023-01-03","v":28.2},{"d":"2023-01-04","v":38.2},{"d":"2023-01-06","v":38.2},{"d":"2023-01-07","v":36},{"d":"2023-01-08","v":42.8},{"d":"2023-01-09","v":42.8},{"d":"2023-01-10","v":47.7},{"d":"2023-01-11","v":57.2},{"d":"2023-01-12","v":62.5},{"d":"2023-01-13","v":70.3},{"d":"2023-01-15","v":72},{"d":"2023-01-16","v":67.4},{"d":"2023-01-17","v":68.8},{"d":"2023-01-18","v":58.7},{"d":"2023-01-20","v":68.8},{"d":"2023-01-21","v":67.8},{"d":"2023-01-22","v":71.6},{"d":"2023-01-23","v":71.6},{"d":"2023-01-24","v":59.8},{"d":"2023-01-25","v":64.6},{"d":"2023-01-27","v":66.7},{"d":"2023-01-28","v":66.3},{"d":"2023-01-29","v":68.8},{"d":"2023-01-30","v":54.4},{"d":"2023-01-31","v":55.5},{"d":"2023-02-02","v":62.5},{"d":"2023-02-04","v":66.7},{"d":"2023-02-06","v":54},{"d":"2023-02-07","v":62.5},{"d":"2023-02-09","v":47.7},{"d":"2023-02-11","v":54},{"d":"2023-02-13","v":46.2},{"d":"2023-02-15","v":58.3},{"d":"2023-02-16","v":59.3},{"d":"2023-02-18","v":68.4},{"d":"2023-02-19","v":65},{"d":"2023-02-20","v":67.8},{"d":"2023-02-22","v":58.3},{"d":"2023-02-23","v":58.3},{"d":"2023-02-25","v":53.4},{"d":"2023-02-26","v":57.2},{"d":"2023-02-28","v":53},{"d":"2023-03-01","v":53.6},{"d":"2023-03-03","v":40.3},{"d":"2023-03-04","v":39.2},{"d":"2023-03-06","v":43},{"d":"2023-03-09","v":30.8},{"d":"2023-03-11","v":35},{"d":"2023-03-13","v":46.6},{"d":"2023-03-14","v":49.8},{"d":"2023-03-15","v":42.4},{"d":"2023-03-16","v":42.4},{"d":"2023-03-17","v":51.5},{"d":"2023-03-18","v":49.8},{"d":"2023-03-19","v":53},{"d":"2023-03-20","v":61.9},{"d":"2023-03-21","v":50.9},{"d":"2023-03-22","v":46.2},{"d":"2023-03-23","v":49.8},{"d":"2023-03-25","v":47.3},{"d":"2023-03-26","v":48.3},{"d":"2023-03-27","v":45.1},{"d":"2023-03-29","v":51.5},{"d":"2023-03-30","v":47.7},{"d":"2023-04-01","v":48.3},{"d":"2023-04-02","v":44.5},{"d":"2023-04-03","v":43.5},{"d":"2023-04-05","v":49.2},{"d":"2023-04-06","v":46.2},{"d":"2023-04-09","v":42.4},{"d":"2023-04-10","v":46.2},{"d":"2023-04-12","v":45.6},{"d":"2023-04-14","v":55.5},{"d":"2023-04-15","v":55.9},{"d":"2023-04-16","v":55.1},{"d":"2023-04-18","v":55.7},{"d":"2023-04-19","v":42.4},{"d":"2023-04-20","v":40.9},{"d":"2023-04-21","v":37.1},{"d":"2023-04-22","v":40.3},{"d":"2023-04-25","v":39.2},{"d":"2023-04-26","v":55.1},{"d":"2023-04-27","v":60},{"d":"2023-04-29","v":51.9},{"d":"2023-04-30","v":50.9},{"d":"2023-05-01","v":50.9},{"d":"2023-05-04","v":42.4},{"d":"2023-05-05","v":44.9},{"d":"2023-05-07","v":44.1},{"d":"2023-05-08","v":37.1},{"d":"2023-05-10","v":39.9},{"d":"2023-05-11","v":36.5},{"d":"2023-05-13","v":42.4},{"d":"2023-05-15","v":42},{"d":"2023-05-16","v":39.2},{"d":"2023-05-17","v":41.3},{"d":"2023-05-18","v":37.1},{"d":"2023-05-19","v":37.7},{"d":"2023-05-20","v":39.2},{"d":"2023-05-21","v":36},{"d":"2023-05-23","v":38.2},{"d":"2023-05-25","v":32.9},{"d":"2023-05-27","v":37.1},{"d":"2023-05-28","v":43},{"d":"2023-05-29","v":43},{"d":"2023-05-30","v":44.5},{"d":"2023-05-31","v":44.9},{"d":"2023-06-03","v":56.1},{"d":"2023-06-05","v":40.9},{"d":"2023-06-06","v":44.9},{"d":"2023-06-07","v":37.1},{"d":"2023-06-09","v":34.6},{"d":"2023-06-10","v":20.6},{"d":"2023-06-12","v":21.7},{"d":"2023-06-13","v":25.5},{"d":"2023-06-14","v":23.4},{"d":"2023-06-15","v":22.3},{"d":"2023-06-17","v":34.4},{"d":"2023-06-18","v":30.8},{"d":"2023-06-20","v":36.5},{"d":"2023-06-21","v":47.1},{"d":"2023-06-22","v":46.2},{"d":"2023-06-23","v":51.5},{"d":"2023-06-24","v":50.4},{"d":"2023-06-25","v":58.7},{"d":"2023-06-26","v":52.5},{"d":"2023-06-27","v":54},{"d":"2023-06-28","v":46.6},{"d":"2023-06-29","v":53},{"d":"2023-07-01","v":58.7},{"d":"2023-07-02","v":56.8},{"d":"2023-07-03","v":60.6},{"d":"2023-07-04","v":59.3},{"d":"2023-07-06","v":47.7},{"d":"2023-07-07","v":51.5},{"d":"2023-07-09","v":51.3},{"d":"2023-07-10","v":56.1},{"d":"2023-07-12","v":55.1},{"d":"2023-07-13","v":63.1},{"d":"2023-07-14","v":58.9},{"d":"2023-07-17","v":62.5},{"d":"2023-07-18","v":54},{"d":"2023-07-19","v":53},{"d":"2023-07-20","v":44.5},{"d":"2023-07-22","v":39.9},{"d":"2023-07-23","v":44.5},{"d":"2023-07-24","v":38.2},{"d":"2023-07-26","v":39.2},{"d":"2023-07-27","v":42},{"d":"2023-07-29","v":40.3},{"d":"2023-07-31","v":37.5},{"d":"2023-08-01","v":38.6},{"d":"2023-08-02","v":34.4},{"d":"2023-08-04","v":32.5},{"d":"2023-08-05","v":33.9},{"d":"2023-08-07","v":32.1},{"d":"2023-08-08","v":40.9},{"d":"2023-08-10","v":34.4},{"d":"2023-08-12","v":32.44}],
"rsiMa":[{"d":"2022-11-11","v":49.6},{"d":"2022-11-15","v":43},{"d":"2022-11-18","v":36},{"d":"2022-11-21","v":32.9},{"d":"2022-11-25","v":34.4},{"d":"2022-11-29","v":36.5},{"d":"2022-12-04","v":40.3},{"d":"2022-12-08","v":44.1},{"d":"2022-12-12","v":47.3},{"d":"2022-12-15","v":47.5},{"d":"2022-12-19","v":43},{"d":"2022-12-23","v":35},{"d":"2022-12-27","v":29.1},{"d":"2022-12-30","v":25.5},{"d":"2023-01-03","v":25.3},{"d":"2023-01-07","v":29.1},{"d":"2023-01-10","v":34.5},{"d":"2023-01-14","v":43.5},{"d":"2023-01-16","v":51.9},{"d":"2023-01-20","v":57.6},{"d":"2023-01-23","v":65.2},{"d":"2023-01-28","v":67.2},{"d":"2023-01-31","v":65},{"d":"2023-02-04","v":64.6},{"d":"2023-02-08","v":62.5},{"d":"2023-02-12","v":57.2},{"d":"2023-02-17","v":56.1},{"d":"2023-02-23","v":58.3},{"d":"2023-02-27","v":60},{"d":"2023-03-02","v":56.2},{"d":"2023-03-05","v":51.9},{"d":"2023-03-09","v":44.1},{"d":"2023-03-15","v":39.9},{"d":"2023-03-21","v":44.9},{"d":"2023-03-24","v":48.8},{"d":"2023-04-02","v":49.2},{"d":"2023-04-04","v":47.3},{"d":"2023-04-12","v":46},{"d":"2023-04-18","v":49.2},{"d":"2023-04-25","v":46.7},{"d":"2023-04-28","v":47.7},{"d":"2023-05-04","v":46.2},{"d":"2023-05-09","v":47.7},{"d":"2023-05-12","v":43},{"d":"2023-05-21","v":39.6},{"d":"2023-05-27","v":38.2},{"d":"2023-05-31","v":38.8},{"d":"2023-06-04","v":42.8},{"d":"2023-06-08","v":43.5},{"d":"2023-06-10","v":41.3},{"d":"2023-06-13","v":38.2},{"d":"2023-06-16","v":33.5},{"d":"2023-06-20","v":29.1},{"d":"2023-06-23","v":31.8},{"d":"2023-06-28","v":42.4},{"d":"2023-07-03","v":53.6},{"d":"2023-07-07","v":54},{"d":"2023-07-13","v":55.8},{"d":"2023-07-18","v":56.4},{"d":"2023-07-23","v":53.6},{"d":"2023-07-29","v":46.2},{"d":"2023-08-02","v":39.2},{"d":"2023-08-06","v":36.7},{"d":"2023-08-09","v":36.7},{"d":"2023-08-12","v":35}],
"oversold":[{"d":"2022-12-18","v":30,"episode":"dec"},{"d":"2022-12-19","v":23.4,"episode":"dec"},{"d":"2022-12-20","v":26.1,"episode":"dec"},{"d":"2022-12-21","v":23.8,"episode":"dec"},{"d":"2022-12-22","v":26.5,"episode":"dec"},{"d":"2022-12-24","v":26.5,"episode":"dec"},{"d":"2022-12-25","v":23.8,"episode":"dec"},{"d":"2022-12-27","v":25.5,"episode":"dec"},{"d":"2022-12-28","v":24,"episode":"dec"},{"d":"2022-12-31","v":23.8,"episode":"dec"},{"d":"2023-01-01","v":26.5,"episode":"dec"},{"d":"2023-01-02","v":28.6,"episode":"dec"},{"d":"2023-01-03","v":28.2,"episode":"dec"},{"d":"2023-01-04","v":30,"episode":"dec"},{"d":"2023-06-09","v":30,"episode":"jun"},{"d":"2023-06-10","v":20.6,"episode":"jun"},{"d":"2023-06-12","v":21.7,"episode":"jun"},{"d":"2023-06-13","v":25.5,"episode":"jun"},{"d":"2023-06-14","v":23.4,"episode":"jun"},{"d":"2023-06-15","v":22.3,"episode":"jun"},{"d":"2023-06-17","v":30,"episode":"jun"}],
"rsiLevels":[{"v":70},{"v":50},{"v":30}],
"brand":[{"d":"2022-11-17T10:00:00Z","label":"TradingView"}],
"brandMark":[{"d":"2022-11-13T12:00:00Z"}]
},
"vconcat":[
{
"width":1250,"height":277,
"encoding":{"x":{"type":"temporal","scale":{"type":"utc","domain":[1668124800000,1695686400000],"padding":0},"axis":null},"y":{"type":"quantitative","scale":{"domain":[22.76,55.51],"nice":false,"zero":false,"padding":0},"axis":{"orient":"right","values":[24,28,32,36,40,44,48],"format":".6f","labelAlign":"left","labelPadding":-70}}},
"layer":[
{"data":{"name":"channelUpper"},"mark":{"type":"area","color":"#2962ff","opacity":0.2,"clip":true},"encoding":{"x":{"field":"d"},"y":{"field":"upper"},"y2":{"field":"lower"}}},
{"data":{"name":"channelUpper"},"mark":{"type":"line","color":"#2962ff","strokeWidth":1,"clip":true},"encoding":{"x":{"field":"d"},"y":{"field":"upper"}}},
{"data":{"name":"channelUpper"},"mark":{"type":"line","color":"#2962ff","strokeWidth":1,"clip":true},"encoding":{"x":{"field":"d"},"y":{"field":"lower"}}},
{"data":{"name":"channelUpper"},"mark":{"type":"line","color":"#2962ff","strokeWidth":1,"strokeDash":[6,4],"clip":true},"encoding":{"x":{"field":"d"},"y":{"field":"mid"}}},
{"data":{"name":"channelLower"},"mark":{"type":"area","color":"#2962ff","opacity":0.2,"clip":true},"encoding":{"x":{"field":"d"},"y":{"field":"upper"},"y2":{"field":"lower"}}},
{"data":{"name":"channelLower"},"mark":{"type":"line","color":"#2962ff","strokeWidth":1,"clip":true},"encoding":{"x":{"field":"d"},"y":{"field":"upper"}}},
{"data":{"name":"channelLower"},"mark":{"type":"line","color":"#2962ff","strokeWidth":1,"clip":true},"encoding":{"x":{"field":"d"},"y":{"field":"lower"}}},
{"data":{"name":"channelLower"},"mark":{"type":"line","color":"#2962ff","strokeWidth":1,"strokeDash":[6,4],"clip":true},"encoding":{"x":{"field":"d"},"y":{"field":"mid"}}},
{"data":{"name":"priceTags"},"transform":[{"filter":"datum.label==='30.266591'"}],"mark":{"type":"rule","color":"#f0286e","strokeWidth":1.3,"strokeDash":[1.5,2.5]},"encoding":{"x":{"datum":1668124800000},"x2":{"datum":1693958400000},"y":{"field":"at"}}},
{"data":{"name":"ma200"},"mark":{"type":"line","color":"#ffeb3b","strokeWidth":1.2,"clip":true},"encoding":{"x":{"field":"d"},"y":{"field":"v"}}},
{"data":{"name":"ma50"},"mark":{"type":"line","color":"#2962ff","strokeWidth":1.2,"clip":true},"encoding":{"x":{"field":"d"},"y":{"field":"v"}}},
{"data":{"name":"candles"},"mark":{"type":"rule","strokeWidth":1,"clip":true},"encoding":{"x":{"field":"d"},"y":{"field":"l"},"y2":{"field":"h"},"stroke":{"condition":{"test":"datum.c>=datum.o","value":"#4caf50"},"value":"#e91e63"}}},
{"data":{"name":"candles"},"mark":{"type":"bar","size":3,"orient":"vertical","clip":true},"encoding":{"x":{"field":"d"},"y":{"field":"o"},"y2":{"field":"c"},"fill":{"condition":{"test":"datum.c>=datum.o","value":"#4caf50"},"value":"#e91e63"}}},
{"data":{"name":"headerText"},"mark":{"type":"text","align":"left","baseline":"middle","fontSize":12.5},"encoding":{"x":{"field":"d"},"y":{"datum":53.61},"text":{"field":"text"},"fill":{"condition":{"test":"datum.kind==='value'","value":"#e91e63"},"value":"#b2b5be"}}},
{"data":{"name":"priceTags"},"mark":{"type":"bar","size":19,"orient":"horizontal"},"encoding":{"x":{"datum":1693958400000},"x2":{"datum":1695600000000},"y":{"field":"at"},"color":{"field":"series","type":"nominal","legend":null,"scale":{"domain":["pos","posFade","neg","negFade","ma200","ma50","price","hist","signal","macd","rsiMa","rsi"],"range":["#26a69a","#b2dfdb","#ff5252","#ffcdd2","#ffeb3b","#2962ff","#e91e63","#ff5252","#ff6d00","#2962ff","#ffeb3b","#7e57c2"]}}}},
{"data":{"name":"priceTags"},"transform":[{"filter":"datum.label==='30.266591'"}],"mark":{"type":"bar","size":17,"orient":"horizontal","color":"#e91e63"},"encoding":{"x":{"datum":1692489600000},"x2":{"datum":1693923840000},"y":{"field":"at"}}},
{"data":{"name":"priceTags"},"transform":[{"filter":"datum.label==='30.266591'"}],"mark":{"type":"text","align":"center","baseline":"middle","fontSize":12.5,"fontWeight":600,"color":"#ffffff"},"encoding":{"x":{"datum":1693215360000},"y":{"field":"at"},"text":{"value":"EGLDUSD"}}},
{"data":{"name":"priceTags"},"mark":{"type":"text","align":"left","baseline":"middle","fontSize":12.5},"encoding":{"x":{"datum":1694131200000},"y":{"field":"at"},"text":{"field":"label"},"fill":{"condition":{"test":"datum.series==='ma200'","value":"#131722"},"value":"#ffffff"}}},
{"data":{"values":[{"unit":"USD"}]},"mark":{"type":"rect","fill":"#131722","stroke":"#363a45","cornerRadius":4},"encoding":{"x":{"datum":1694044800000},"x2":{"datum":1695600000000},"y":{"datum":55.15},"y2":{"datum":51.96}}},
{"data":{"values":[{"unit":"USD"}]},"mark":{"type":"text","align":"left","baseline":"middle","fontSize":12.5,"color":"#b2b5be"},"encoding":{"x":{"datum":1694260800000},"y":{"datum":53.55},"text":{"field":"unit"}}}
]
},
{
"width":1250,"height":98,
"encoding":{"x":{"type":"temporal","scale":{"type":"utc","domain":[1668124800000,1695686400000],"padding":0},"axis":null},"y":{"type":"quantitative","scale":{"domain":[-2.528,1.361],"nice":false,"zero":false,"padding":0},"axis":{"orient":"right","values":[-2],"labelExpr":"replace(format(datum.value,'.6f'),'-','−')","labelAlign":"left","labelPadding":-70}}},
"layer":[
{"data":{"values":[{"level":"zero"}]},"mark":{"type":"rule","color":"#787b86","strokeWidth":1,"strokeDash":[5,5]},"encoding":{"x":{"datum":1668124800000},"x2":{"datum":1693958400000},"y":{"datum":0}}},
{"data":{"name":"macdHist"},"mark":{"type":"bar","size":2,"orient":"vertical","clip":true},"encoding":{"x":{"field":"d"},"y":{"field":"v"},"y2":{"datum":0},"color":{"field":"tone","type":"nominal","legend":null,"scale":{"domain":["pos","posFade","neg","negFade","ma200","ma50","price","hist","signal","macd","rsiMa","rsi"],"range":["#26a69a","#b2dfdb","#ff5252","#ffcdd2","#ffeb3b","#2962ff","#e91e63","#ff5252","#ff6d00","#2962ff","#ffeb3b","#7e57c2"]}}}},
{"data":{"name":"macdLine"},"mark":{"type":"line","color":"#2962ff","strokeWidth":1.2,"clip":true},"encoding":{"x":{"field":"d"},"y":{"field":"v"}}},
{"data":{"name":"signalLine"},"mark":{"type":"line","color":"#ff6d00","strokeWidth":1.2,"clip":true},"encoding":{"x":{"field":"d"},"y":{"field":"v"}}},
{"data":{"name":"macdTags"},"mark":{"type":"bar","size":19,"orient":"horizontal"},"encoding":{"x":{"datum":1693958400000},"x2":{"datum":1695600000000},"y":{"field":"at"},"color":{"field":"series","type":"nominal","legend":null,"scale":{"domain":["pos","posFade","neg","negFade","ma200","ma50","price","hist","signal","macd","rsiMa","rsi"],"range":["#26a69a","#b2dfdb","#ff5252","#ffcdd2","#ffeb3b","#2962ff","#e91e63","#ff5252","#ff6d00","#2962ff","#ffeb3b","#7e57c2"]}}}},
{"data":{"name":"macdTags"},"mark":{"type":"text","align":"left","baseline":"middle","fontSize":12.5,"color":"#ffffff"},"encoding":{"x":{"datum":1694131200000},"y":{"field":"at"},"text":{"field":"label"}}}
]
},
{
"width":1250,"height":130,
"encoding":{"x":{"type":"temporal","scale":{"type":"utc","domain":[1668124800000,1695686400000],"padding":0},"axis":{"orient":"bottom","values":[{"year":2022,"month":"dec","date":1,"utc":true},{"year":2023,"month":"jan","date":1,"utc":true},{"year":2023,"month":"feb","date":1,"utc":true},{"year":2023,"month":"mar","date":1,"utc":true},{"year":2023,"month":"apr","date":1,"utc":true},{"year":2023,"month":"may","date":1,"utc":true},{"year":2023,"month":"jun","date":1,"utc":true},{"year":2023,"month":"jul","date":1,"utc":true},{"year":2023,"month":"aug","date":1,"utc":true},{"year":2023,"month":"sep","date":1,"utc":true}],"labelExpr":"utcmonth(datum.value)===0?'2023':utcFormat(datum.value,'%b')","labelFontWeight":{"condition":{"test":"utcmonth(datum.value)===0","value":"bold"},"value":"normal"},"labelPadding":-21,"labelAlign":"center"}},"y":{"type":"quantitative","scale":{"domain":[-4,78.3],"nice":false,"zero":false,"padding":0},"axis":{"orient":"right","values":[25,50,75],"format":".2f","labelAlign":"left","labelPadding":-70}}},
"layer":[
{"data":{"values":[{"zone":"30-70"}]},"mark":{"type":"rect","color":"#7e57c2","opacity":0.1},"encoding":{"x":{"datum":1668124800000},"x2":{"datum":1693958400000},"y":{"datum":70},"y2":{"datum":30}}},
{"data":{"name":"rsiLevels"},"mark":{"type":"rule","color":"#787b86","strokeWidth":1,"strokeDash":[5,5]},"encoding":{"x":{"datum":1668124800000},"x2":{"datum":1693958400000},"y":{"field":"v"}}},
{"data":{"name":"oversold"},"mark":{"type":"area","color":"#f23645","opacity":0.15},"encoding":{"detail":{"field":"episode"},"x":{"field":"d"},"y":{"field":"v"},"y2":{"datum":30}}},
{"data":{"name":"rsi"},"mark":{"type":"line","color":"#7e57c2","strokeWidth":1.2,"clip":true},"encoding":{"x":{"field":"d"},"y":{"field":"v"}}},
{"data":{"name":"rsiMa"},"mark":{"type":"line","color":"#ffeb3b","strokeWidth":1.2,"clip":true},"encoding":{"x":{"field":"d"},"y":{"field":"v"}}},
{"data":{"name":"rsiTags"},"mark":{"type":"bar","size":19,"orient":"horizontal"},"encoding":{"x":{"datum":1693958400000},"x2":{"datum":1694995200000},"y":{"field":"at"},"color":{"field":"series","type":"nominal","legend":null,"scale":{"domain":["pos","posFade","neg","negFade","ma200","ma50","price","hist","signal","macd","rsiMa","rsi"],"range":["#26a69a","#b2dfdb","#ff5252","#ffcdd2","#ffeb3b","#2962ff","#e91e63","#ff5252","#ff6d00","#2962ff","#ffeb3b","#7e57c2"]}}}},
{"data":{"name":"rsiTags"},"mark":{"type":"text","align":"left","baseline":"middle","fontSize":12.5},"encoding":{"x":{"datum":1694131200000},"y":{"field":"at"},"text":{"field":"label"},"fill":{"condition":{"test":"datum.series==='rsiMa'","value":"#131722"},"value":"#ffffff"}}},
{"data":{"name":"brand"},"mark":{"type":"text","align":"left","baseline":"middle","fontSize":14,"color":"#b2b5be"},"encoding":{"x":{"field":"d"},"y":{"datum":-17},"text":{"field":"label"}}},
{"data":{"name":"brandMark"},"mark":{"type":"point","filled":true,"opacity":1,"color":"#d1d4dc","size":1764,"shape":"M-.5 -.25H-.05V.27H-.31V-.06H-.5Z M0 -.23H.1V-.11H0Z M.2 -.25H.5L.2 .27H-.02Z"},"encoding":{"x":{"field":"d"},"y":{"datum":-17}}}
]
}
]
}
